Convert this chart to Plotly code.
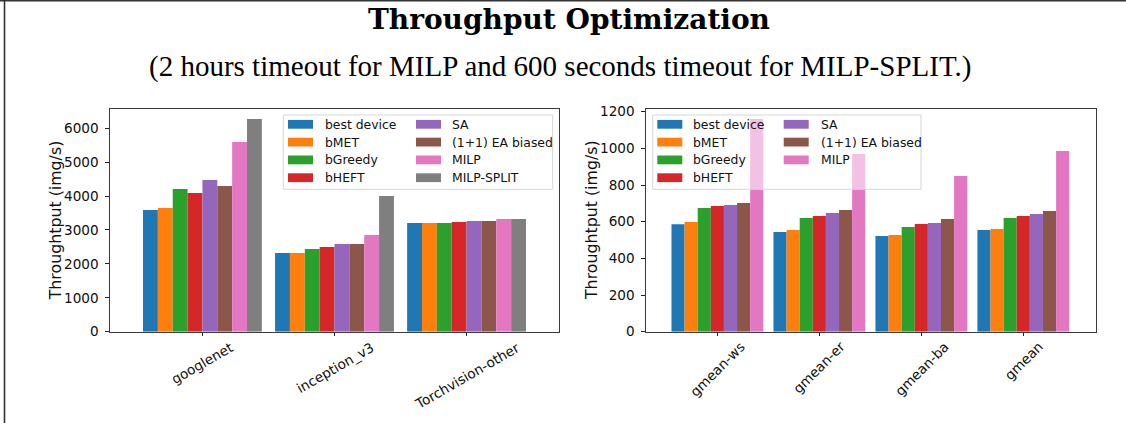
import plotly.graph_objects as go

# ---------------- data ----------------
series_names = ["best device", "bMET", "bGreedy", "bHEFT", "SA",
                "(1+1) EA biased", "MILP", "MILP-SPLIT"]
series_colors = ["#1f77b4", "#ff7f0e", "#2ca02c", "#d62728", "#9467bd",
                 "#8c564b", "#e377c2", "#7f7f7f"]

categories_left = ["googlenet", "inception_v3", "Torchvision-other"]
best_device_left = [3590, 2321, 3206]
bmet_left = [3649, 2321, 3206]
bgreedy_left = [4210, 2439, 3206]
bheft_left = [4092, 2498, 3236]
sa_left = [4476, 2587, 3265]
ea_left = [4298, 2587, 3265]
milp_left = [5597, 2853, 3324]
milp_split_left = [6275, 4004, 3324]

categories_right = ["gmean-ws", "gmean-er", "gmean-ba", "gmean"]
best_device_right = [586, 544, 522, 555]
bmet_right = [598, 555, 527, 560]
bgreedy_right = [675, 620, 571, 620]
bheft_right = [686, 631, 587, 631]
sa_right = [691, 647, 593, 642]
ea_right = [702, 664, 615, 658]
milp_right = [1160, 969, 849, 986]

left_values = [best_device_left, bmet_left, bgreedy_left, bheft_left,
               sa_left, ea_left, milp_left, milp_split_left]
right_values = [best_device_right, bmet_right, bgreedy_right, bheft_right,
                sa_right, ea_right, milp_right]

title_text = "Throughput Optimization"
subtitle_text = "(2 hours timeout for MILP and 600 seconds timeout for MILP-SPLIT.)"
y_title = "Throughtput (img/s)"

# ---------------- layout helpers ----------------
W, H = 1126, 423


def px(x):
    return x / W


def py(y):
    return 1 - y / H


fig = go.Figure()

for name, color, vals in zip(series_names, series_colors, left_values):
    fig.add_trace(go.Bar(x=categories_left, y=vals, name=name,
                         marker=dict(color=color, line=dict(width=0)),
                         xaxis="x", yaxis="y", showlegend=False))
for name, color, vals in zip(series_names, series_colors, right_values):
    fig.add_trace(go.Bar(x=categories_right, y=vals, name=name,
                         marker=dict(color=color, line=dict(width=0)),
                         xaxis="x2", yaxis="y2", showlegend=False))

tick_font = dict(family="DejaVu Sans", size=13.6, color="#111")
axis_common = dict(showline=True, mirror=True, linecolor="#3a3a3a", linewidth=1.2,
                   ticks="outside", ticklen=3.5, tickwidth=1.1, tickcolor="#222",
                   showgrid=False, zeroline=False, tickfont=tick_font,
                   automargin=False)

y_bottom, y_top = 331.67, 109
fig.update_layout(
    template="none",
    width=W, height=H, autosize=False,
    margin=dict(l=0, r=0, t=0, b=0, pad=0, autoexpand=False),
    paper_bgcolor="white", plot_bgcolor="white",
    showlegend=False,
    barmode="group", bargap=0.1, bargroupgap=0,
    xaxis=dict(domain=[px(110), px(559)], range=[-0.70, 2.70], anchor="y",
               showticklabels=False, **axis_common),
    yaxis=dict(domain=[py(y_bottom), py(y_top)], range=[0, 6570], anchor="x",
               tickvals=[0, 1000, 2000, 3000, 4000, 5000, 6000],
               ticklabelstandoff=4, **axis_common),
    xaxis2=dict(domain=[px(646), px(1095.7)], range=[-0.70, 3.71], anchor="y2",
                showticklabels=False, **axis_common),
    yaxis2=dict(domain=[py(y_bottom), py(y_top)], range=[0, 1214.5], anchor="x2",
                tickvals=[0, 200, 400, 600, 800, 1000, 1200],
                ticklabelstandoff=4, **axis_common),
)

annotations = []
shapes = []

# titles
annotations.append(dict(text=title_text, x=px(569), y=py(20), xref="paper", yref="paper",
                        xanchor="center", yanchor="middle", showarrow=False,
                        font=dict(family="DejaVu Serif", size=28, color="#000", weight="bold")))
annotations.append(dict(text=subtitle_text, x=px(560), y=py(66), xref="paper", yref="paper",
                        xanchor="center", yanchor="middle", showarrow=False,
                        font=dict(family="Liberation Serif", size=29, color="#000")))

# y axis titles
for xc in (55, 591.7):
    annotations.append(dict(text=y_title, x=px(xc), y=py((y_bottom + y_top) / 2),
                            xref="paper", yref="paper", textangle=-90,
                            xanchor="center", yanchor="middle", showarrow=False,
                            font=dict(family="DejaVu Sans", size=15.8, color="#111")))

# rotated x tick labels (centred under the tick like matplotlib)
for cat in categories_left:
    annotations.append(dict(text=cat, x=cat, y=0, xref="x", yref="y domain",
                            xanchor="center", yanchor="top", textangle=-30,
                            yshift=-5, showarrow=False, font=tick_font))
for cat in categories_right:
    annotations.append(dict(text=cat, x=cat, y=0, xref="x2", yref="y2 domain",
                            xanchor="center", yanchor="top", textangle=-45,
                            yshift=-4, showarrow=False, font=tick_font))

# legends (matplotlib style, two columns)
legend_font = dict(family="DejaVu Sans", size=12.4, color="#111")
row_y = [124.3, 142.1, 159.9, 177.7]


def add_legend(box, col_patch_x, col_text_x, names, colors, alpha):
    x0, y0, x1, y1 = box
    shapes.append(dict(type="rect", xref="paper", yref="paper",
                       x0=px(x0), x1=px(x1), y0=py(y1), y1=py(y0),
                       fillcolor="rgba(255,255,255,%s)" % alpha,
                       line=dict(color="#d6d6d6", width=1), layer="above"))
    for i, (name, color) in enumerate(zip(names, colors)):
        col, row = divmod(i, 4)
        yc = row_y[row]
        shapes.append(dict(type="rect", xref="paper", yref="paper",
                           x0=px(col_patch_x[col]), x1=px(col_patch_x[col] + 25),
                           y0=py(yc + 4.4), y1=py(yc - 4.4),
                           fillcolor=color, line=dict(width=0), layer="above"))
        annotations.append(dict(text=name, x=px(col_text_x[col]), y=py(yc),
                                xref="paper", yref="paper", xanchor="left",
                                yanchor="middle", showarrow=False, font=legend_font))


add_legend((283.3, 115, 552.7, 189.3), (288, 416), (322.7, 450),
           series_names, series_colors, 0.8)
add_legend((652.7, 115, 921, 189.3), (657.3, 783.7), (691.3, 818.7),
           series_names[:7], series_colors[:7], 0.55)

# figure frame lines (cropped outline)
shapes.append(dict(type="line", xref="paper", yref="paper", x0=px(4.5), x1=px(4.5),
                   y0=0, y1=1, line=dict(color="#333", width=1.6), layer="above"))
shapes.append(dict(type="line", xref="paper", yref="paper", x0=0, x1=1,
                   y0=py(0.8), y1=py(0.8), line=dict(color="#333", width=1.6), layer="above"))

fig.update_layout(annotations=annotations, shapes=shapes)
fig.write_html(
    "out.html",
    config=dict(displayModeBar=False, responsive=False),
    post_script="document.documentElement.style.margin='0';"
                "document.documentElement.style.overflow='hidden';"
                "document.body.style.margin='0';document.body.style.padding='0';"
                "document.body.style.overflow='hidden';",
)
